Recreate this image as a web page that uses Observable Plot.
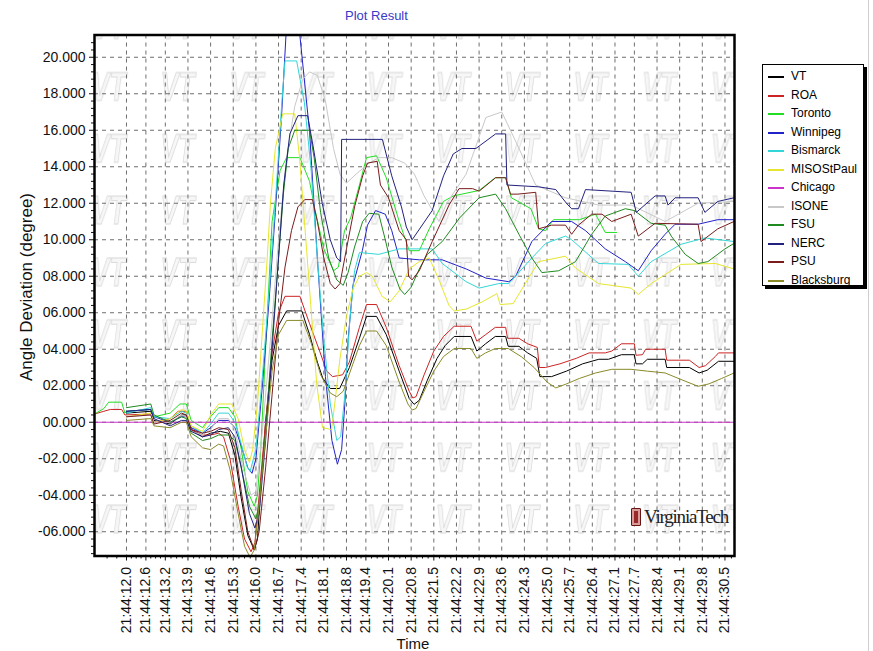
<!DOCTYPE html>
<html>
<head>
<meta charset="utf-8">
<script src="https://cdn.jsdelivr.net/npm/d3@7"></script>
<script src="https://cdn.jsdelivr.net/npm/@observablehq/plot@0.6"></script>
<style>
  body { margin: 0; background: #fff; font-family: "Liberation Sans", Arial, sans-serif; }
  #wrap { position: relative; width: 873px; height: 651px; overflow: hidden; background: #fff; }
  #chart { position: absolute; left: 0; top: 0; }
  .title { position: absolute; left: 345px; top: 8px; font-size: 13px; color: #3a3ac8; white-space: nowrap; }
  .ytitle { position: absolute; left: 27px; top: 287px; transform: translate(-50%, -50%) rotate(-90deg);
            font-size: 17px; color: #111; white-space: nowrap; }
  .xtitle { position: absolute; left: 413px; top: 643px; transform: translate(-50%, -50%);
            font-size: 15px; color: #111; white-space: nowrap; }
  #legend { position: absolute; left: 762px; top: 64px; width: 102px; height: 222px; background: #fff;
            border: 1px solid #000; box-shadow: 3px 3px 0 #000; padding-top: 2px; box-sizing: border-box; }
  #legend .row { position: relative; height: 18.5px; font-size: 12px; color: #000; }
  #legend .sw { position: absolute; left: 5px; top: 9px; width: 16px; height: 2px; }
  #legend .lab { position: absolute; left: 28px; top: 2px; line-height: 14px; white-space: nowrap; }
  .logo { position: absolute; left: 631px; top: 506px; display: flex; align-items: center; }
  .logo .emblem { width: 8px; height: 16px; background: #9a2a2a; border: 1px solid #6a1414; border-radius: 1px;
                  margin-right: 3px; box-shadow: inset 0 0 0 2px #d99a9a; }
  .logo .word { font-family: "Liberation Serif", "DejaVu Serif", serif; font-size: 19px; letter-spacing: -1.2px; color: #222; }
  .edge { position: absolute; left: 868px; top: 0; width: 1px; height: 651px; background: #cfcfcf; }
</style>
</head>
<body>
<div id="wrap">
  <div id="chart"></div>
  <div class="title">Plot Result</div>
  <div class="ytitle">Angle Deviation (degree)</div>
  <div class="xtitle">Time</div>
  <div id="legend"></div>
  <div class="logo"><div class="emblem"></div><div class="word">VirginiaTech</div></div>
  <div class="edge"></div>
</div>
<script>
// Seconds after 21:44:00 at which the time axis is labelled.
const timeTicks = [12.0, 12.6, 13.2, 13.9, 14.6, 15.3, 16.0, 16.7, 17.4, 18.1, 18.8, 19.4, 20.1, 20.8,
                   21.5, 22.2, 22.9, 23.6, 24.3, 25.0, 25.7, 26.4, 27.1, 27.7, 28.4, 29.1, 29.8, 30.5];
// Angle axis labels (degrees).
const angleTicks = [-6, -4, -2, 0, 2, 4, 6, 8, 10, 12, 14, 16, 18, 20];

const seriesNames = ["VT", "ROA", "Toronto", "Winnipeg", "Bismarck", "MISOStPaul", "Chicago",
                     "ISONE", "FSU", "NERC", "PSU", "Blacksburg"];
const seriesColors = ["#000000", "#cc2424", "#22dd22", "#2222c8", "#33d6d6", "#e6e62e", "#cc33cc",
                      "#c8c8c8", "#1f8a1f", "#22227e", "#7a1c1c", "#8a8a28"];

// Angle deviation relative to Chicago, [seconds after 21:44:00, degrees].
const vt = [[12.0,0.5],[12.75,0.6],[12.85,0.1],[13.35,-0.1],[13.7,0.4],[13.85,0.4],[14.0,-0.4],[14.35,-0.8],[14.6,-0.6],[14.9,-0.5],[15.15,-0.6],[15.35,-1.8],[15.55,-4.2],[15.75,-6.2],[15.95,-7.0],[16.05,-6.4],[16.15,-3.6],[16.3,0.0],[16.5,3.4],[16.7,5.3],[16.95,6.1],[17.42,6.1],[17.66,4.8],[17.9,3.3],[18.07,2.4],[18.3,1.85],[18.59,1.85],[18.89,3.0],[19.2,4.6],[19.42,5.8],[19.73,5.8],[20.03,4.8],[20.43,2.8],[20.74,1.3],[20.89,0.98],[21.05,1.2],[21.3,2.3],[21.6,3.5],[21.85,4.2],[22.13,4.7],[22.65,4.7],[22.83,3.9],[23.1,4.3],[23.4,4.7],[23.72,4.7],[23.8,4.16],[24.13,4.16],[24.4,3.8],[24.68,3.5],[24.78,2.5],[25.14,2.5],[25.6,2.8],[26.1,3.2],[26.6,3.45],[26.9,3.45],[27.3,3.7],[27.7,3.7],[27.75,3.2],[27.95,3.2],[28.1,3.45],[28.65,3.45],[28.7,3.0],[29.4,3.0],[29.7,2.7],[29.95,2.85],[30.3,3.34],[30.78,3.34]];
const roa = [[11.01,0.45],[11.3,0.6],[11.5,0.7],[11.85,0.7],[11.95,0.4],[12.75,0.45],[12.85,0.0],[13.35,0.2],[13.6,0.6],[13.85,0.6],[14.0,-0.4],[14.35,-0.7],[14.6,-0.7],[14.85,-0.6],[15.0,-0.8],[15.2,-2.0],[15.45,-4.6],[15.65,-6.4],[15.85,-7.1],[15.97,-6.6],[16.1,-4.0],[16.3,0.0],[16.5,3.8],[16.7,6.0],[16.9,6.9],[17.36,6.9],[17.66,5.4],[17.97,3.9],[18.19,2.8],[18.37,2.5],[18.68,2.6],[18.89,3.3],[19.2,5.2],[19.42,6.45],[19.73,6.45],[20.03,5.2],[20.43,3.1],[20.74,1.7],[20.85,1.33],[20.95,1.4],[21.2,2.6],[21.5,3.9],[21.8,4.7],[22.13,5.26],[22.65,5.26],[22.83,4.44],[23.1,4.8],[23.4,5.2],[23.72,5.2],[23.78,4.6],[24.13,4.6],[24.4,4.3],[24.7,4.1],[24.76,3.0],[24.95,3.0],[25.4,3.2],[25.9,3.5],[26.3,3.8],[26.8,3.8],[27.0,3.9],[27.3,4.3],[27.7,4.3],[27.75,3.67],[27.95,3.7],[28.05,4.0],[28.65,4.0],[28.7,3.4],[29.4,3.4],[29.7,3.0],[29.9,3.1],[30.2,3.6],[30.3,3.8],[30.78,3.8]];
const toronto = [[11.01,0.45],[11.3,0.75],[11.45,1.1],[11.85,1.1],[11.95,0.5],[12.0,0.6],[12.75,0.7],[12.85,0.3],[13.35,0.5],[13.65,1.0],[13.85,1.0],[14.0,0.1],[14.35,-0.3],[14.6,0.3],[14.85,0.8],[15.15,0.8],[15.35,0.3],[15.55,-1.5],[15.75,-3.8],[15.95,-4.6],[16.05,-4.0],[16.15,-1.5],[16.3,4.0],[16.5,11.0],[16.75,13.8],[16.95,14.5],[17.36,14.5],[17.66,13.2],[17.82,11.7],[18.1,9.5],[18.4,8.3],[18.55,8.5],[18.74,10.5],[18.93,11.2],[19.2,13.0],[19.42,14.5],[19.73,14.6],[20.03,13.4],[20.43,11.0],[20.74,9.4],[21.05,9.4],[21.36,10.6],[21.8,12.1],[22.1,12.4],[22.9,12.7],[23.4,13.4],[23.72,13.4],[23.9,12.3],[24.5,11.7],[24.74,10.6],[24.95,10.5],[25.2,11.1],[26.0,11.1],[26.5,11.4],[26.8,10.4],[27.15,10.4]];
const winnipeg = [[12.0,0.6],[12.75,0.7],[12.85,0.3],[13.35,0.0],[13.7,0.3],[13.85,0.3],[14.0,-0.3],[14.35,-0.6],[14.6,-0.3],[14.85,0.1],[15.15,0.1],[15.35,-0.3],[15.55,-1.3],[15.75,-2.5],[15.88,-2.8],[16.0,-2.0],[16.2,2.0],[16.4,6.5],[16.6,11.5],[16.8,17.0],[16.93,21.2],[17.1,23.0],[17.25,22.5],[17.36,21.2],[17.66,15.9],[17.9,9.0],[18.15,2.5],[18.35,-1.0],[18.52,-2.3],[18.65,-1.5],[18.75,1.0],[18.85,4.5],[19.0,7.5],[19.29,9.4],[19.45,10.8],[19.7,11.6],[20.0,11.4],[20.2,10.5],[20.43,9.0],[21.05,8.9],[21.76,8.9],[22.5,8.4],[23.11,7.9],[23.82,7.7],[24.03,8.0],[24.53,9.9],[25.14,11.0],[25.76,11.0],[26.19,10.5],[26.8,9.5],[27.42,8.8],[27.82,8.3],[28.22,9.4],[28.65,10.3],[28.96,10.85],[29.67,10.85],[30.28,11.1],[30.78,11.1]];
const bismarck = [[12.0,0.5],[12.75,0.8],[12.85,0.3],[13.35,0.2],[13.7,0.6],[13.85,0.5],[14.0,-0.2],[14.35,-0.6],[14.6,-0.1],[14.85,0.5],[15.15,0.5],[15.35,0.0],[15.55,-1.2],[15.72,-2.4],[15.82,-2.7],[16.0,-1.5],[16.2,2.5],[16.4,7.0],[16.6,12.0],[16.8,17.5],[16.9,19.8],[17.26,19.8],[17.5,17.5],[17.7,14.0],[17.9,9.0],[18.1,4.5],[18.3,1.0],[18.5,-1.0],[18.62,-0.8],[18.75,1.5],[18.9,5.5],[19.05,8.3],[19.2,9.3],[19.8,9.2],[20.43,9.5],[21.45,9.5],[21.76,8.7],[22.5,7.7],[22.9,7.35],[23.51,7.6],[23.82,7.6],[24.53,9.0],[24.96,9.8],[25.57,10.2],[25.76,10.0],[26.59,8.7],[27.51,8.65],[27.82,8.0],[28.22,8.8],[29.14,9.75],[29.88,10.1],[30.78,9.9]];
const misoStPaul = [[12.0,0.3],[12.75,0.5],[12.85,0.0],[13.35,0.2],[13.7,0.7],[13.85,0.6],[14.0,-0.2],[14.35,-0.5],[14.6,0.4],[14.85,1.0],[15.25,1.0],[15.45,0.2],[15.65,-1.5],[15.8,-2.2],[15.9,-1.5],[16.05,1.0],[16.2,5.0],[16.35,9.0],[16.45,12.0],[16.6,15.0],[16.83,16.9],[17.2,16.9],[17.35,14.5],[17.57,9.4],[17.88,2.1],[18.06,-0.3],[18.34,-0.4],[18.45,1.2],[18.6,3.5],[18.8,5.8],[19.0,7.3],[19.2,8.0],[19.42,8.2],[19.6,8.0],[19.9,6.9],[20.15,6.6],[20.43,7.2],[20.74,8.4],[21.05,8.8],[21.36,9.0],[21.66,7.8],[21.97,6.4],[22.13,6.1],[22.5,6.2],[23.0,6.6],[23.45,7.05],[23.55,6.45],[23.95,6.5],[24.74,8.8],[25.57,9.1],[25.88,8.45],[26.59,7.6],[27.6,7.35],[27.82,7.0],[28.22,7.6],[29.14,8.65],[30.2,8.7],[30.78,8.4]];
const chicago = [[11.01,0],[30.78,0]];
const isone = [[12.0,0.3],[12.75,0.4],[12.85,0.0],[13.35,0.0],[13.7,0.4],[13.85,0.3],[14.0,-0.5],[14.35,-0.7],[14.6,-0.4],[14.85,0.2],[15.15,0.2],[15.35,-0.4],[15.6,-2.5],[15.85,-4.0],[16.0,-3.8],[16.2,-0.5],[16.45,4.5],[16.7,10.0],[16.95,14.5],[17.2,17.3],[17.45,18.8],[17.66,19.2],[17.9,19.0],[18.15,17.6],[18.4,15.0],[18.6,13.6],[18.8,13.1],[19.1,13.6],[19.5,14.2],[19.8,14.5],[20.2,14.5],[20.6,14.2],[20.9,13.6],[21.2,12.4],[21.66,11.0],[21.9,12.0],[22.5,13.6],[23.11,16.7],[23.6,17.0],[24.03,15.4],[24.65,13.0],[25.57,12.3],[26.59,11.9],[27.6,11.9],[28.65,11.0],[29.67,12.0],[30.78,12.1]];
const fsu = [[12.0,0.8],[12.75,1.0],[12.85,0.4],[13.35,0.0],[13.7,0.3],[13.85,0.2],[14.0,-0.6],[14.35,-1.0],[14.6,-0.9],[14.85,-0.7],[15.15,-0.7],[15.35,-1.0],[15.55,-2.5],[15.8,-4.6],[16.0,-5.3],[16.1,-4.5],[16.3,-0.5],[16.5,4.5],[16.7,9.0],[16.85,12.5],[17.0,15.0],[17.2,16.0],[17.66,16.0],[17.8,14.5],[18.0,11.5],[18.25,9.0],[18.5,7.8],[18.7,7.5],[18.85,8.2],[19.05,9.6],[19.3,11.0],[19.5,11.45],[19.8,11.4],[20.0,10.0],[20.2,8.5],[20.45,7.3],[20.6,7.0],[20.8,7.4],[21.05,8.4],[21.3,9.2],[21.76,9.9],[22.3,11.2],[22.9,12.3],[23.41,12.5],[23.72,11.7],[24.13,10.3],[24.53,9.0],[24.84,8.2],[25.36,8.3],[25.88,8.8],[26.38,10.3],[26.8,11.3],[27.42,11.7],[27.7,11.6],[28.22,10.9],[28.65,10.8],[28.84,10.2],[29.27,9.2],[29.67,8.7],[29.97,8.8],[30.5,9.5],[30.78,9.8]];
const nerc = [[12.0,0.6],[12.75,0.7],[12.85,0.2],[13.35,-0.2],[13.7,0.1],[13.85,0.1],[14.0,-0.5],[14.35,-0.8],[14.6,-0.7],[14.85,-0.4],[15.15,-0.3],[15.35,-0.8],[15.55,-2.5],[15.8,-5.0],[15.97,-5.8],[16.1,-5.0],[16.3,-1.0],[16.5,4.0],[16.7,9.0],[16.86,13.0],[17.05,15.8],[17.3,16.8],[17.6,16.8],[17.8,14.8],[18.05,12.0],[18.3,10.0],[18.5,9.0],[18.62,8.8],[18.65,15.5],[19.91,15.5],[20.2,13.5],[20.5,11.8],[20.65,10.7],[20.83,10.0],[21.45,11.6],[21.8,13.5],[22.1,14.7],[22.37,15.0],[22.8,15.0],[23.41,15.8],[23.72,15.8],[23.76,13.0],[24.74,12.9],[25.27,12.75],[25.6,12.0],[25.76,11.7],[25.97,11.7],[26.19,12.75],[27.6,12.6],[27.76,11.5],[28.34,12.4],[28.65,12.4],[28.74,11.9],[28.96,12.3],[29.67,12.3],[29.88,11.5],[30.28,12.1],[30.78,12.3]];
const psu = [[12.0,0.3],[12.75,0.4],[12.85,-0.1],[13.35,0.1],[13.7,0.5],[13.85,0.4],[14.0,-0.4],[14.35,-0.6],[14.6,-0.5],[14.85,-0.3],[15.15,-0.4],[15.35,-1.4],[15.55,-3.8],[15.75,-6.0],[15.95,-7.0],[16.1,-6.0],[16.3,-2.5],[16.5,1.5],[16.7,5.5],[16.9,8.5],[17.1,10.5],[17.3,11.8],[17.51,12.2],[17.75,12.2],[17.9,11.0],[18.1,9.0],[18.3,7.6],[18.45,7.3],[18.6,7.6],[18.8,9.5],[19.05,11.8],[19.3,13.5],[19.45,14.2],[19.75,14.3],[19.85,13.0],[20.1,12.3],[20.43,10.5],[20.65,10.0],[20.72,8.0],[20.83,7.8],[21.05,8.3],[21.45,9.9],[21.97,11.9],[22.28,12.8],[22.7,12.8],[22.9,12.66],[23.41,13.4],[23.72,13.4],[23.87,12.5],[24.1,12.5],[24.65,12.6],[24.74,10.6],[25.14,10.8],[25.57,10.8],[25.76,10.3],[25.97,10.8],[26.38,11.4],[26.7,11.4],[27.0,11.0],[27.6,11.4],[27.82,10.2],[28.34,10.9],[29.67,10.85],[29.76,9.9],[30.28,10.6],[30.78,11.0]];
const blacksburg = [[12.0,0.1],[12.75,0.2],[12.85,-0.2],[13.35,-0.3],[13.7,0.0],[13.85,0.0],[14.0,-0.8],[14.35,-1.4],[14.6,-1.5],[14.85,-1.2],[15.0,-1.3],[15.2,-2.6],[15.45,-5.0],[15.65,-6.8],[15.82,-7.4],[15.95,-7.0],[16.1,-4.6],[16.3,-0.8],[16.5,2.8],[16.7,4.8],[16.95,5.58],[17.45,5.58],[17.7,4.4],[18.0,2.6],[18.3,1.6],[18.5,1.4],[18.7,1.7],[18.9,2.7],[19.2,4.2],[19.42,5.0],[19.73,5.0],[20.03,4.2],[20.43,2.2],[20.7,1.0],[20.83,0.67],[20.95,0.75],[21.2,1.7],[21.5,2.8],[21.8,3.6],[22.13,4.04],[22.65,4.04],[22.83,3.5],[23.1,3.8],[23.4,4.04],[23.8,4.04],[24.2,3.6],[24.6,3.0],[25.0,2.2],[25.27,1.88],[25.6,2.1],[26.0,2.4],[26.5,2.7],[27.0,2.9],[27.6,2.9],[28.1,2.8],[28.65,2.7],[29.2,2.3],[29.67,1.97],[30.0,2.1],[30.4,2.4],[30.78,2.7]];

const seriesValues = [vt, roa, toronto, winnipeg, bismarck, misoStPaul, chicago, isone, fsu, nerc, psu, blacksburg];
const series = seriesNames.map((name, i) => ({name, color: seriesColors[i], values: seriesValues[i]}));

// Minor ticks: four steps between time labels, five between angle labels.
const minorTime = [];
for (let i = 0; i < timeTicks.length - 1; i++) {
  for (let k = 1; k < 4; k++) minorTime.push(timeTicks[i] + (timeTicks[i + 1] - timeTicks[i]) * k / 4);
}
minorTime.push(11.4, 11.7, 30.7);
const minorAngle = d3.range(-7.2, 21.2, 0.4).map(v => Math.round(v * 10) / 10)
  .filter(v => Math.abs(v / 2 - Math.round(v / 2)) > 1e-6);

const fmtTime = t => "21:44:" + t.toFixed(1);
const fmtAngle = v => (v < 0 ? "-" : "") + Math.abs(v).toFixed(3).padStart(6, "0");

const grid = {stroke: "#6e6e6e", strokeOpacity: 1, strokeWidth: 1, strokeDasharray: "4,4"};

const chart = Plot.plot({
  width: 873,
  height: 651,
  marginLeft: 94,
  marginRight: 139,
  marginTop: 34.5,
  marginBottom: 95.5,
  x: {domain: [11.011, 30.795]},
  y: {domain: [-7.33, 21.22]},
  style: {fontFamily: "'Liberation Sans', Arial, sans-serif", fontSize: "14px", color: "#111", background: "transparent", overflow: "visible"},
  marks: [
    Plot.frame({fill: "url(#vt-watermark)", stroke: "none"}),
    Plot.gridX(timeTicks, grid),
    Plot.gridY(angleTicks, grid),
    Plot.axisX(minorTime, {tickSize: 3, tickFormat: () => "", label: null, strokeOpacity: 1}),
    Plot.axisX(timeTicks, {tickSize: 5, tickPadding: 6, tickRotate: -90, tickFormat: fmtTime, label: null, fontSize: 14, strokeOpacity: 1}),
    Plot.axisY(minorAngle, {tickSize: 3, tickFormat: () => "", label: null, strokeOpacity: 1}),
    Plot.axisY(angleTicks, {tickSize: 5, tickPadding: 4, tickFormat: fmtAngle, label: null, fontSize: 14, strokeOpacity: 1}),
    ...series.map(s => Plot.line(s.values, {x: d => d[0], y: d => d[1], stroke: s.color, strokeWidth: 1, clip: true})),
    Plot.frame({stroke: "#000", strokeWidth: 2.5})
  ]
});

// Faint "VT" watermark tiled behind the plotting area.
const defs = d3.select(chart).insert("defs", ":first-child");
const pat = defs.append("pattern")
  .attr("id", "vt-watermark")
  .attr("patternUnits", "userSpaceOnUse")
  .attr("x", 142.6).attr("y", 56.1)
  .attr("width", 68.8).attr("height", 61.8);
pat.append("text")
  .attr("x", 34.4).attr("y", 44)
  .attr("text-anchor", "middle")
  .attr("font-family", "'Liberation Sans', Arial, sans-serif")
  .attr("font-style", "italic")
  .attr("font-weight", "bold")
  .attr("font-size", 40)
  .attr("textLength", 34)
  .attr("lengthAdjust", "spacingAndGlyphs")
  .attr("fill", "#f7f7f7")
  .attr("stroke", "#d9d9d9")
  .attr("stroke-width", 1)
  .text("VT");

document.getElementById("chart").appendChild(chart);

// Legend
const legend = d3.select("#legend");
series.forEach(s => {
  const row = legend.append("div").attr("class", "row");
  row.append("div").attr("class", "sw").style("background-color", s.color);
  row.append("div").attr("class", "lab").text(s.name);
});
</script>
</body>
</html>
